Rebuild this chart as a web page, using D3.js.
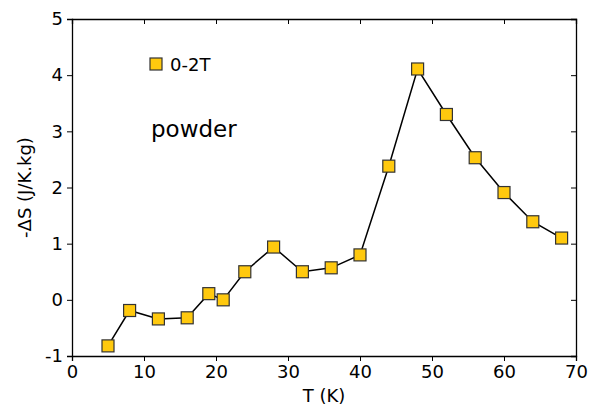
<!DOCTYPE html>
<html>
<head>
<meta charset="utf-8">
<script src="https://cdn.jsdelivr.net/npm/d3@7"></script>
<style>
  body { margin: 0; background: #fff; }
  text { font-family: "DejaVu Sans", sans-serif; fill: #000; }
</style>
</head>
<body>
<script>
// temperature (K) and entropy change (J/K.kg), field 0-2T
var temps = [5, 8, 12, 16, 19, 21, 24, 28, 32, 36, 40, 44, 48, 52, 56, 60, 64, 68];
var dS = [-0.82, -0.19, -0.34, -0.32, 0.11, 0.0, 0.5, 0.94, 0.5, 0.57, 0.8, 2.38, 4.11, 3.3, 2.53, 1.91, 1.39, 1.1];
var xTicks = [0, 10, 20, 30, 40, 50, 60, 70];
var yTicks = [-1, 0, 1, 2, 3, 4, 5];
var seriesName = "0-2T";
var note = "powder";

var width = 589, height = 407;
var margin = {top: 19, right: 13, bottom: 51, left: 72};

var svg = d3.select("body").append("svg")
    .attr("width", width)
    .attr("height", height);

var x = d3.scaleLinear().domain([0, 70]).range([margin.left, width - margin.right]);
var y = d3.scaleLinear().domain([-1, 5]).range([height - margin.bottom, margin.top]);

var fmt = function (d) { return String(d); }; // plain hyphen for negatives

// ticks: bottom/left outward, top/right inward
svg.append("g")
    .attr("transform", "translate(0," + y(-1) + ")")
    .call(d3.axisBottom(x).tickValues(xTicks).tickSize(5).tickPadding(4).tickFormat(fmt));
svg.append("g")
    .attr("transform", "translate(" + x(0) + ",0)")
    .call(d3.axisLeft(y).tickValues(yTicks).tickSize(5).tickPadding(4).tickFormat(fmt));
svg.append("g")
    .attr("transform", "translate(0," + y(5) + ")")
    .call(d3.axisBottom(x).tickValues(xTicks).tickSize(5).tickFormat(""));
svg.append("g")
    .attr("transform", "translate(" + x(70) + ",0)")
    .call(d3.axisRight(y).tickValues(yTicks).tickSize(-5).tickFormat(""));

svg.selectAll(".domain").attr("stroke", "#000").attr("stroke-width", 1.3);
svg.selectAll(".tick line").attr("stroke", "#000").attr("stroke-width", 1);
svg.selectAll(".tick text").style("font-size", "18px").attr("fill", "#000");

// axis labels
svg.append("text")
    .attr("x", (x(0) + x(70)) / 2)
    .attr("y", 402)
    .attr("text-anchor", "middle")
    .style("font-size", "18px")
    .text("T (K)");
svg.append("text")
    .attr("transform", "translate(31," + ((y(5) + y(-1)) / 2) + ") rotate(-90)")
    .attr("text-anchor", "middle")
    .style("font-size", "18px")
    .text("-ΔS (J/K.kg)");

var pts = temps.map(function (t, i) { return {t: t, v: dS[i]}; });

var line = d3.line()
    .x(function (d) { return x(d.t); })
    .y(function (d) { return y(d.v); });

svg.append("path")
    .datum(pts)
    .attr("fill", "none")
    .attr("stroke", "#000")
    .attr("stroke-width", 1.5)
    .attr("d", line);

var ms = 12;
svg.append("g")
    .selectAll("rect")
    .data(pts)
    .join("rect")
    .attr("x", function (d) { return x(d.t) - ms / 2; })
    .attr("y", function (d) { return y(d.v) - ms / 2; })
    .attr("width", ms)
    .attr("height", ms)
    .attr("fill", "#FFC90E")
    .attr("stroke", "#333")
    .attr("stroke-width", 1.2);

// legend
svg.append("rect")
    .attr("x", 150).attr("y", 58)
    .attr("width", ms).attr("height", ms)
    .attr("fill", "#FFC90E")
    .attr("stroke", "#333")
    .attr("stroke-width", 1.2);
svg.append("text")
    .attr("x", 170).attr("y", 71)
    .style("font-size", "18px")
    .text(seriesName);

svg.append("text")
    .attr("x", 151).attr("y", 137)
    .style("font-size", "23px")
    .text(note);
</script>
</body>
</html>
